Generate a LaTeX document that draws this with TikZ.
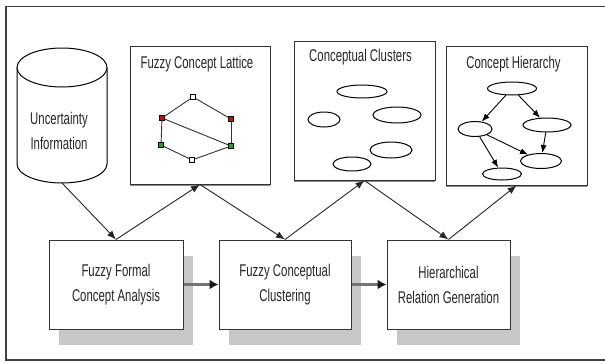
\documentclass[tikz,border=0pt]{standalone}
\usepackage{fontspec}
\setmainfont{Liberation Sans}[FakeStretch=0.67]
\usetikzlibrary{arrows.meta,shapes.geometric,shadows}

\begin{document}
\begin{tikzpicture}[x=1pt,y=-1pt,
    every node/.style={font=\fontsize{17}{25}\selectfont, text=black!85},
    stage/.style={draw=black!80, line width=1pt, fill=white, align=center,
      minimum height=89pt, inner sep=0pt,
      drop shadow={shadow xshift=10pt,shadow yshift=-16pt,opacity=1,fill=black!22}},
    panel/.style={draw=black!80, line width=1pt, fill=white, inner sep=0pt,
      minimum width=141pt, minimum height=139pt,
      drop shadow={shadow xshift=0pt,shadow yshift=-2pt,opacity=1,fill=black!45}},
    blob/.style={draw, ellipse, line width=1pt, inner sep=0pt},
    latnode/.style={draw, rectangle, inner sep=0pt, minimum size=5pt, line width=0.8pt},
    flow/.style={-{Latex[length=9pt,width=7pt]}, line width=0.9pt, black!85},
    pipe/.style={-{Latex[length=9pt,width=10pt,color=black!90]}, line width=2.2pt, black!55},
    sub/.style={-{Latex[length=8pt,width=6pt]}, line width=0.9pt}]
  \definecolor{latRed}{rgb}{0.8,0.05,0.05}
  \definecolor{latGreen}{rgb}{0.1,0.65,0.1}

  \useasboundingbox (0,0) rectangle (605,362);
  \draw[black!75, line width=1.6pt] (615,6.5) -- (6,6.5) -- (6,360) -- (615,360);

  % source (cylinder) and the three stages
  \draw[fill=white, line width=1pt] (17,67.5) -- (17,164)
    arc[start angle=180, end angle=360, x radius=45pt, y radius=19pt] -- (107,67.5);
  \draw[fill=white, line width=1pt] (62,67.5) ellipse [x radius=45pt, y radius=19.5pt];
  \coordinate (infobase) at (62,183);
  \node[align=center] (info) at (59,131) {Uncertainty\\Information};

  \node[stage, minimum width=134pt] (ffca) at (116,284.5) {Fuzzy Formal\\Concept Analysis};
  \node[stage, minimum width=132pt] (fcc) at (285,284.5) {Fuzzy Conceptual\\Clustering};
  \node[stage, minimum width=123pt] (hrg) at (448.5,284.5) {Hierarchical\\Relation Generation};

  % result panels
  \node[panel, minimum width=140pt, minimum height=138pt] (lattice) at (200,115) {};
  \node[panel] (clusters) at (364.5,110.5) {};
  \node[panel] (hierarchy) at (516.5,115.5) {};
  \node (latticetitle) at ([xshift=-3pt,yshift=-19pt]lattice.north) {Fuzzy Concept Lattice};
  \node (clusterstitle) at ([xshift=-4pt,yshift=-17pt]clusters.north) {Conceptual Clusters};
  \node (hierarchytitle) at ([xshift=-3pt,yshift=-19pt]hierarchy.north) {Concept Hierarchy};

  % lattice
  \foreach \n/\x/\y/\c in {t/193/97/white, lr/162/118/latRed, rr/231/119/latRed,
                           lg/161/145/latGreen, rg/231/146/latGreen, b/192/160/white}
    \node[latnode, fill=\c] (l\n) at (\x,\y) {};
  \foreach \a/\b in {t/lr, t/rr, lr/lg, rr/rg, lr/rg, lg/b, rg/b}
    \draw[line width=0.9pt, black!80] (l\a) -- (l\b);

  % clusters
  \foreach \n/\x/\y/\w/\h in {1/362/91.5/50pt/13pt, 2/324/119.5/32pt/15pt, 3/397/115/48pt/16pt,
                              4/391/150/42pt/16pt, 5/352/164/38pt/14pt}
    \node[blob, minimum width=\w, minimum height=\h] (c\n) at (\x,\y) {};

  % hierarchy
  \foreach \n/\x/\y/\w/\h in {1/512/88.5/49pt/13pt, 2/475/129/34pt/15pt, 3/547/125/48pt/14pt,
                              4/541/161/41pt/15pt, 5/502/174/39pt/12pt}
    \node[blob, minimum width=\w, minimum height=\h] (h\n) at (\x,\y) {};
  \foreach \a/\b in {1/2, 1/3, 2/5, 2/4, 3/4}
    \draw[sub] (h\a) -- (h\b);

  % flow
  \draw[flow] (infobase) -- (ffca.north);
  \draw[flow] (ffca.north) -- (lattice.south);
  \draw[flow] (lattice.south) -- (fcc.north);
  \draw[flow] (fcc.north) -- (clusters.south);
  \draw[flow] (clusters.south) -- (hrg.north);
  \draw[flow] (hrg.north) -- (hierarchy.south);
  \draw[pipe] (ffca) -- (fcc);
  \draw[pipe] (fcc) -- (hrg);
\end{tikzpicture}
\end{document}
